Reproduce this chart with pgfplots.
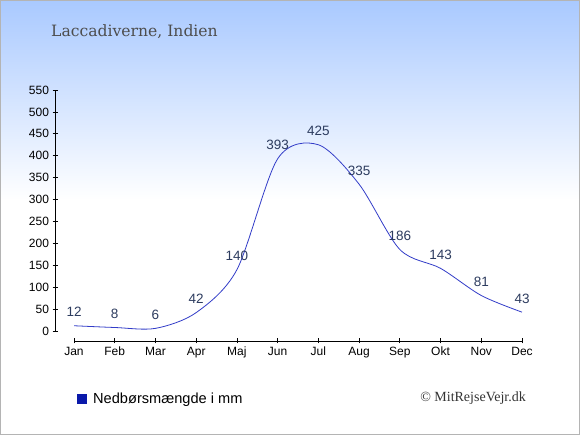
\documentclass[border=0pt]{standalone}
\usepackage{pgfplots}
\pgfplotsset{compat=1.18}
\usepackage{fontspec}
\setmainfont{Liberation Sans}
\newfontfamily\titlefont{DejaVu Serif}
\newfontfamily\copyfont{Liberation Serif}
\definecolor{bgtop}{HTML}{A9C9FF}
\definecolor{bordergray}{HTML}{B4B4B4}
\definecolor{linecol}{RGB}{50,60,200}
\definecolor{labelcol}{RGB}{45,60,95}
\definecolor{legendblue}{RGB}{10,25,170}
\definecolor{titlecol}{HTML}{4D4D4D}
\begin{document}
\begin{tikzpicture}
\useasboundingbox (0,0) rectangle (580pt,435pt);
\fill[white] (0,0) rectangle (580pt,435pt);
\shade[top color=bgtop, bottom color=white] (0,235pt) rectangle (580pt,435pt);
\node[anchor=base west, font=\titlefont\fontsize{15.6}{18}\selectfont, text=titlecol, inner sep=0pt] at (51pt,398pt) {Laccadiverne, Indien};
\begin{axis}[
  at={(55pt,104pt)}, anchor=south west, scale only axis,
  width=467pt, height=241pt,
  xmin=-0.467, xmax=11, ymin=0, ymax=550,
  axis x line=none, axis y line=left,
  axis line style={-, black, line width=0.8pt},
  ytick={0,50,...,550},
  tick align=center, major tick length=5pt,
  tick style={black, line width=0.8pt},
  yticklabel style={font=\fontsize{12}{14}\selectfont, text=black},
  /pgf/number format/assume math mode=true,
  clip=false,
  legend style={at={(0.0471,-0.282)}, anchor=west, draw=none, fill=none,
    font=\fontsize{14.6}{17}\selectfont, inner sep=0pt},
  legend cell align=left,
]
\addplot[smooth, color=linecol, line width=0.8pt, mark=none, forget plot,
  nodes near coords,
  every node near coord/.append style={anchor=center, yshift=13.5pt,
    font=\fontsize{13.5}{16}\selectfont, text=labelcol}]
  coordinates {(0,12) (1,8) (2,6) (3,42) (4,140) (5,393) (6,425) (7,335) (8,186) (9,143) (10,81) (11,43)};
\addlegendimage{legend image code/.code={\fill[legendblue, draw=none] (0pt,-5pt) rectangle (10pt,5pt); \path[draw=none, fill=none] (0pt,0pt) -- (14pt,0pt);}}
\addlegendentry{Nedbørsmængde i mm}
\end{axis}
\begin{axis}[
  at={(74pt,94pt)}, anchor=south west, scale only axis,
  width=448pt, height=10pt,
  xmin=0, xmax=11, ymin=0, ymax=1,
  axis x line=bottom, axis y line=none,
  axis line style={-, black, line width=0.8pt},
  xtick={0,...,11},
  xticklabels={Jan,Feb,Mar,Apr,Maj,Jun,Jul,Aug,Sep,Okt,Nov,Dec},
  tick align=center, major tick length=5pt,
  tick style={black, line width=0.8pt},
  xticklabel style={font=\fontsize{12}{14}\selectfont, text=black},
]
\end{axis}
\node[anchor=base east, font=\copyfont\fontsize{14}{16}\selectfont, text=black!80, inner sep=0pt] at (526pt,33.3pt) {© MitRejseVejr.dk};
\draw[bordergray, line width=1pt] (0.5pt,0.5pt) rectangle (579.5pt,434.5pt);
\end{tikzpicture}
\end{document}
